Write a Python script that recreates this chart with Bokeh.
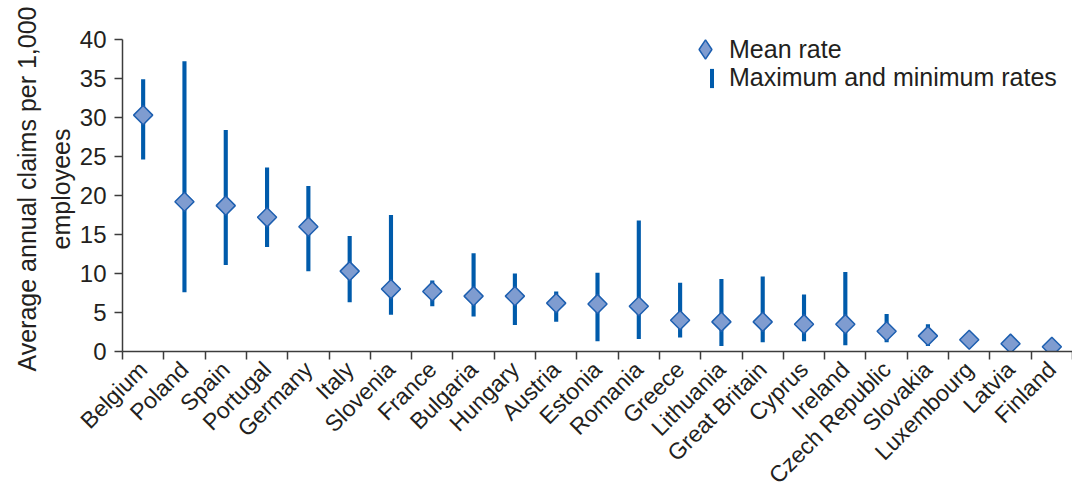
import math
from bokeh.plotting import figure
from bokeh.models import ColumnDataSource, FixedTicker, Range1d, Legend, LegendItem
from bokeh.embed import file_html
from bokeh.resources import INLINE

countries = ["Belgium", "Poland", "Spain", "Portugal", "Germany", "Italy", "Slovenia",
             "France", "Bulgaria", "Hungary", "Austria", "Estonia", "Romania", "Greece",
             "Lithuania", "Great Britain", "Cyprus", "Ireland", "Czech Republic",
             "Slovakia", "Luxembourg", "Latvia", "Finland"]
mean_rate = [30.3, 19.2, 18.7, 17.2, 16.0, 10.3, 8.0, 7.7, 7.1, 7.1, 6.2, 6.1, 5.8,
             4.0, 3.8, 3.8, 3.5, 3.5, 2.6, 2.0, 1.5, 1.0, 0.6]
max_rate = [34.9, 37.2, 28.4, 23.6, 21.2, 14.8, 17.5, 9.1, 12.6, 10.0, 7.7, 10.1, 16.8,
            8.8, 9.3, 9.6, 7.3, 10.2, 4.8, 3.5, 2.0, 1.4, 0.9]
min_rate = [24.6, 7.6, 11.1, 13.4, 10.3, 6.3, 4.7, 5.8, 4.5, 3.4, 3.8, 1.3, 1.6,
            1.8, 0.7, 1.2, 1.3, 0.8, 1.2, 0.7, 1.1, 0.7, 0.4]
y_ticks = [0, 5, 10, 15, 20, 25, 30, 35, 40]

FONT = "Liberation Sans"
TEXT = "#231f20"
AXIS = "#3c3c3c"
BAR = "#005bab"
FILL = "#7f9cd0"
EDGE = "#1d5fb0"

idx = list(range(len(countries)))
src = ColumnDataSource(dict(x=idx, country=countries, mean=mean_rate,
                            hi=max_rate, lo=min_rate))

p = figure(width=1072, height=500,
           x_range=Range1d(-0.5, len(countries) - 0.5), y_range=Range1d(0, 41.66),
           output_backend="svg", toolbar_location=None,
           min_border_left=122, min_border_right=0, min_border_top=26,
           min_border_bottom=140)
p.outline_line_color = None
p.grid.visible = False
p.background_fill_color = "white"

bars = p.vbar(x="x", width=0.1, bottom="lo", top="hi", source=src,
              fill_color=BAR, line_color=None)
pts = p.scatter(x="x", y="mean", source=src, marker="square", size=13.5,
                angle=math.pi / 4, fill_color=FILL, line_color=EDGE, line_width=1.5)
# hidden twin of the mean-rate glyph, used only to draw a diamond key in the legend
key = p.scatter(x="x", y="mean", source=src, marker="diamond",
                fill_color=FILL, line_color=EDGE, line_width=1.5, visible=False)

xa = p.xaxis[0]
xa.ticker = FixedTicker(ticks=idx, minor_ticks=[i - 0.5 for i in range(len(countries) + 1)])
xa.major_label_overrides = {i: c for i, c in enumerate(countries)}
xa.major_tick_line_color = None
xa.major_tick_out = 0
xa.major_tick_in = 0
xa.minor_tick_line_color = AXIS
xa.minor_tick_line_width = 1.5
xa.minor_tick_out = 8
xa.minor_tick_in = 0
xa.axis_line_color = AXIS
xa.axis_line_width = 1.5
xa.major_label_orientation = math.pi / 4
xa.major_label_standoff = 6
xa.major_label_text_font = FONT
xa.major_label_text_font_size = "23px"
xa.major_label_text_color = TEXT

ya = p.yaxis[0]
ya.ticker = FixedTicker(ticks=y_ticks)
ya.bounds = (0, 40)
ya.major_tick_out = 8
ya.major_tick_in = 0
ya.major_tick_line_color = AXIS
ya.major_tick_line_width = 1.5
ya.minor_tick_line_color = None
ya.axis_line_color = AXIS
ya.axis_line_width = 1.5
ya.major_label_standoff = 8
ya.major_label_text_font = FONT
ya.major_label_text_font_size = "24px"
ya.major_label_text_color = TEXT
ya.axis_label = "Average annual claims per 1,000\nemployees"
ya.axis_label_text_font = FONT
ya.axis_label_text_font_size = "25px"
ya.axis_label_text_font_style = "normal"
ya.axis_label_text_color = TEXT
ya.axis_label_standoff = 2

common = dict(padding=0, margin=0, border_line_color=None, background_fill_alpha=0,
              label_text_font=FONT, label_text_font_size="25px", label_text_color=TEXT,
              inactive_fill_alpha=0)
leg1 = Legend(items=[LegendItem(label="Mean rate", renderers=[key])],
              location=(559, 278), glyph_width=48, glyph_height=48, label_height=48,
              label_standoff=0, **common)
leg2 = Legend(items=[LegendItem(label="Maximum and minimum rates", renderers=[bars])],
              location=(587, 259), glyph_width=5, glyph_height=24, label_height=24,
              label_standoff=15, **common)
p.add_layout(leg1)
p.add_layout(leg2)

open("out.html", "w").write(file_html(p, INLINE))
